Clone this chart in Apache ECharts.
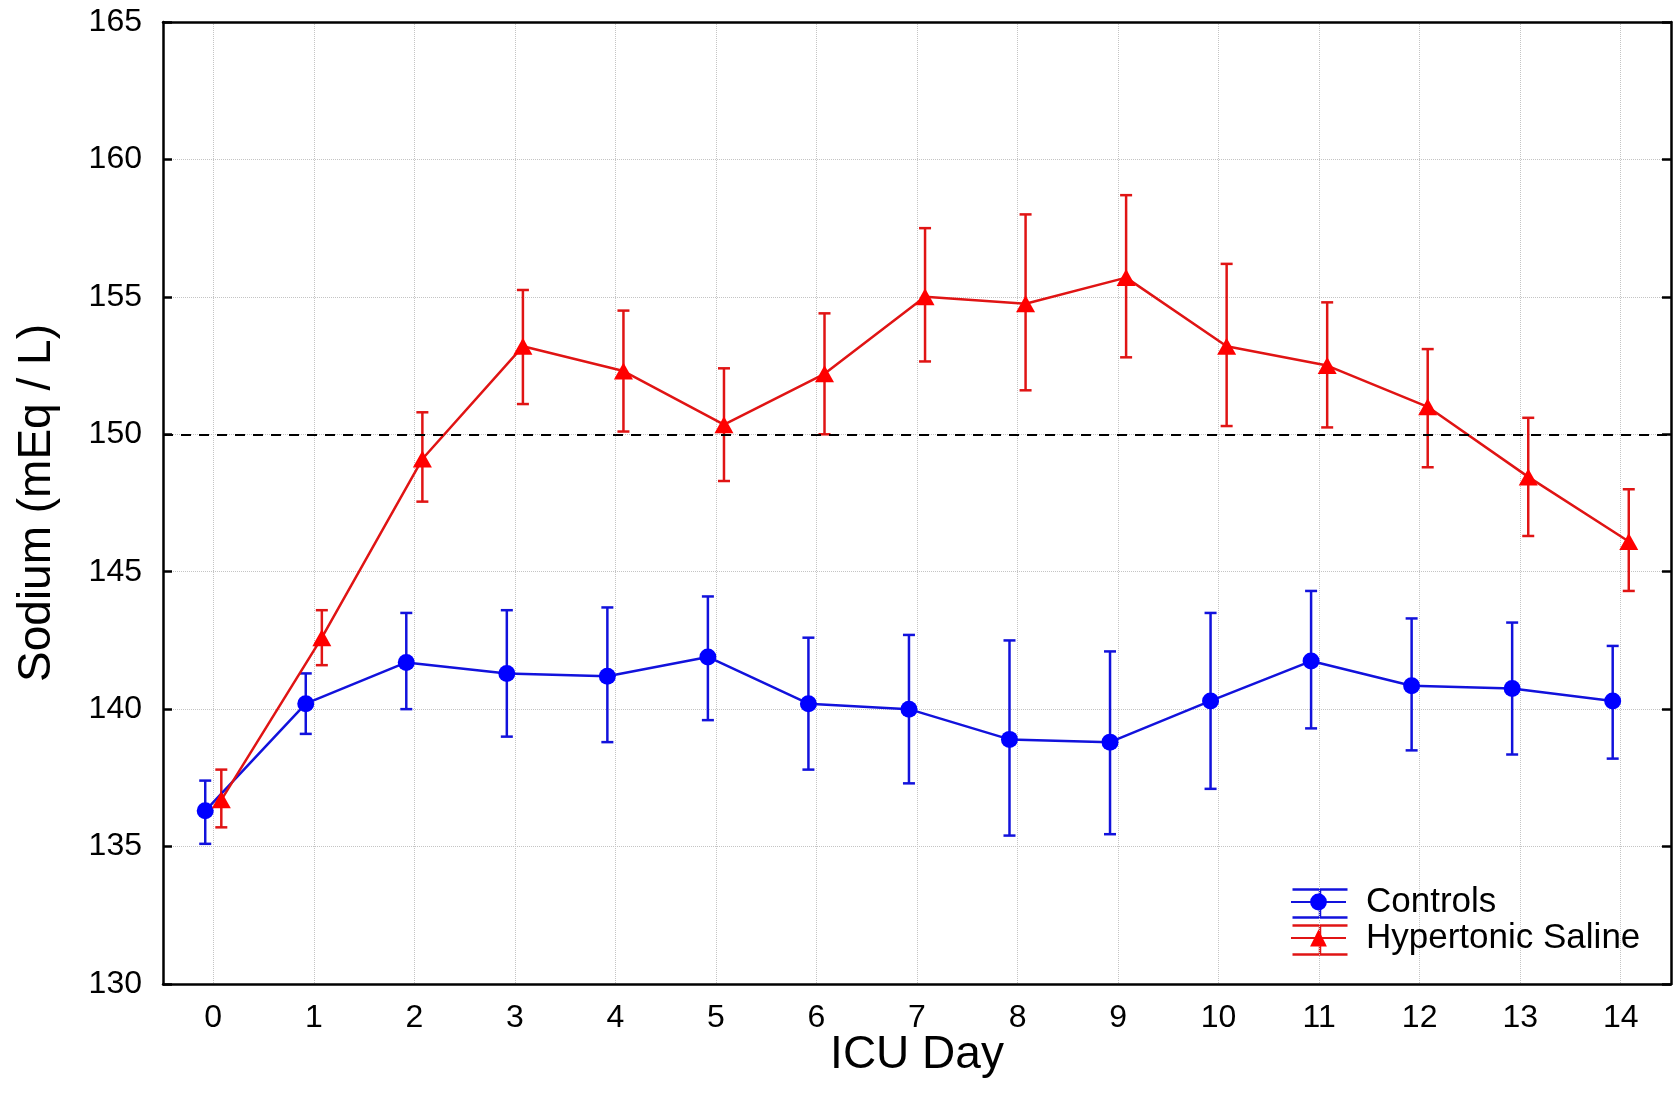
<!DOCTYPE html>
<html><head><meta charset="utf-8">
<script src="https://cdn.jsdelivr.net/npm/echarts@6/dist/echarts.min.js"></script>
<style>html,body{margin:0;padding:0;background:#fff}#c{width:1677px;height:1106px}</style>
</head><body><div id="c"></div>
<script>
// ---- data ----
const days = [0,1,2,3,4,5,6,7,8,9,10,11,12,13,14];
const dayLabels = ['0','1','2','3','4','5','6','7','8','9','10','11','12','13','14'];
const controlsMean = [136.3,140.2,141.7,141.3,141.2,141.9,140.2,140.0,138.9,138.8,140.3,141.75,140.85,140.75,140.3];
const controlsLow  = [135.1,139.1,140.0,139.0,138.8,139.6,137.8,137.3,135.4,135.45,137.1,139.3,138.5,138.35,138.2];
const controlsHigh = [137.4,141.3,143.5,143.6,143.7,144.1,142.6,142.7,142.5,142.1,143.5,144.3,143.3,143.15,142.3];
const hsMean = [136.7,142.6,149.1,153.2,152.3,150.35,152.2,155.0,154.75,155.7,153.2,152.5,151.0,148.45,146.1];
const hsLow  = [135.7,141.6,147.55,151.1,150.1,148.3,150.0,152.65,151.6,152.8,150.3,150.25,148.8,146.3,144.3];
const hsHigh = [137.8,143.6,150.8,155.25,154.5,152.4,154.4,157.5,158.0,158.7,156.2,154.8,153.1,150.6,148.0];
const yMin = 130, yMax = 165, yStep = 5;
const threshold = 150;
const seriesNames = ['Controls','Hypertonic Saline'];

// ---- styles ----
const FONT = '"Liberation Sans", Arial, sans-serif';
const BLUE_LINE = '#1212dc', BLUE_MARK = '#0000ff';
const RED_LINE = '#e01414', RED_MARK = '#ff0000';
const OFF = 0.08; // horizontal dodge in category units

function pts(mean, off){ return days.map((d,i)=>[d+off, mean[i]]); }
function bars(lo, hi, off){ return days.map((d,i)=>[d+off, lo[i], hi[i]]); }
function errRender(color){
  return function(params, api){
    const x = api.value(0);
    const a = api.coord([x, api.value(1)]);
    const b = api.coord([x, api.value(2)]);
    const w = 6;
    const st = {stroke: color, lineWidth: 2.5};
    return {type:'group', children:[
      {type:'line', shape:{x1:a[0],y1:a[1],x2:b[0],y2:b[1]}, style:st},
      {type:'line', shape:{x1:a[0]-w,y1:a[1],x2:a[0]+w,y2:a[1]}, style:st},
      {type:'line', shape:{x1:b[0]-w,y1:b[1],x2:b[0]+w,y2:b[1]}, style:st}
    ]};
  };
}

const axisLineStyle = {color:'#000', width:2.5};
const tickStyle = {color:'#000', width:2.5};
const chart = echarts.init(document.getElementById('c'), null, {renderer:'canvas'});
const option = {
  backgroundColor:'#fff',
  animation:false,
  textStyle:{fontFamily:FONT},
  grid:{left:163, right:6, top:22, bottom:122, containLabel:false, outerBoundsMode:'none'},
  xAxis:[
    {type:'category', data:dayLabels, position:'bottom', boundaryGap:true,
     name:'ICU Day', nameLocation:'middle', nameGap:48, nameMoveOverlap:false,
     nameTextStyle:{fontSize:46, color:'#000', fontFamily:FONT},
     axisLine:{onZero:false, lineStyle:axisLineStyle},
     axisTick:{inside:true, alignWithLabel:true, length:8, lineStyle:tickStyle},
     axisLabel:{fontSize:32, color:'#000', margin:18, fontFamily:FONT},
     splitLine:{show:true, alignWithLabel:true, lineStyle:{color:'#c4c4c4', type:'dotted', width:1}}},
    {type:'value', min:-0.5, max:14.5, show:false, splitLine:{show:false}},
    {type:'category', data:dayLabels, position:'top', boundaryGap:true,
     axisLine:{onZero:false, lineStyle:axisLineStyle},
     axisTick:{inside:true, alignWithLabel:true, length:8, lineStyle:tickStyle},
     axisLabel:{show:false}, splitLine:{show:false}}
  ],
  yAxis:[
    {type:'value', min:yMin, max:yMax, interval:yStep, position:'left',
     name:'Sodium (mEq / L)', nameLocation:'middle', nameGap:103,
     nameTextStyle:{fontSize:46, color:'#000', fontFamily:FONT},
     axisLine:{show:true, onZero:false, lineStyle:axisLineStyle},
     axisTick:{show:true, inside:true, length:9, lineStyle:tickStyle},
     axisLabel:{fontSize:32, color:'#000', margin:21, fontFamily:FONT},
     splitLine:{show:true, lineStyle:{color:'#c4c4c4', type:'dotted', width:1}}},
    {type:'value', min:yMin, max:yMax, interval:yStep, position:'right',
     axisLine:{show:true, onZero:false, lineStyle:axisLineStyle},
     axisTick:{show:true, inside:true, length:9, lineStyle:tickStyle},
     axisLabel:{show:false}, splitLine:{show:false}}
  ],
  legend:{
    data:seriesNames, orient:'vertical', left:1290, top:884, padding:0,
    itemWidth:55, itemHeight:21, itemGap:0,
    textStyle:{fontSize:35, lineHeight:36, color:'#000', fontFamily:FONT, padding:[0,0,0,15]}
  },
  graphic:[
    {type:'group', left:1290, top:887, silent:true, z:100, children:[
      {type:'line', shape:{x1:0,y1:0,x2:55,y2:0}, style:{stroke:BLUE_LINE, lineWidth:2.5}},
      {type:'line', shape:{x1:0,y1:28,x2:55,y2:28}, style:{stroke:BLUE_LINE, lineWidth:2.5}},
      {type:'line', shape:{x1:27.5,y1:0,x2:27.5,y2:28}, style:{stroke:BLUE_LINE, lineWidth:2.5}},
      {type:'line', shape:{x1:0,y1:36,x2:55,y2:36}, style:{stroke:RED_LINE, lineWidth:2.5}},
      {type:'line', shape:{x1:0,y1:65,x2:55,y2:65}, style:{stroke:RED_LINE, lineWidth:2.5}},
      {type:'line', shape:{x1:27.5,y1:36,x2:27.5,y2:65}, style:{stroke:RED_LINE, lineWidth:2.5}}
    ]}
  ],
  series:[
    {name:'Controls SE', type:'custom', xAxisIndex:1, yAxisIndex:0, z:2,
     renderItem:errRender(BLUE_LINE), encode:{x:0, y:[1,2]}, data:bars(controlsLow, controlsHigh, -OFF)},
    {name:'Hypertonic Saline SE', type:'custom', xAxisIndex:1, yAxisIndex:0, z:2,
     renderItem:errRender(RED_LINE), encode:{x:0, y:[1,2]}, data:bars(hsLow, hsHigh, OFF)},
    {name:'Controls', type:'line', xAxisIndex:1, yAxisIndex:0, z:3,
     data:pts(controlsMean, -OFF), symbol:'circle', symbolSize:17,
     lineStyle:{color:BLUE_LINE, width:2.5}, itemStyle:{color:BLUE_MARK},
     markLine:{silent:true, symbol:['none','none'], label:{show:false},
       lineStyle:{color:'#000', type:[10,8], width:2},
       data:[{yAxis:threshold}]}},
    {name:'Hypertonic Saline', type:'line', xAxisIndex:1, yAxisIndex:0, z:3,
     data:pts(hsMean, OFF), symbol:'triangle', symbolSize:[19,17],
     lineStyle:{color:RED_LINE, width:2.5}, itemStyle:{color:RED_MARK}}
  ]
};
chart.setOption(option);
</script></body></html>
